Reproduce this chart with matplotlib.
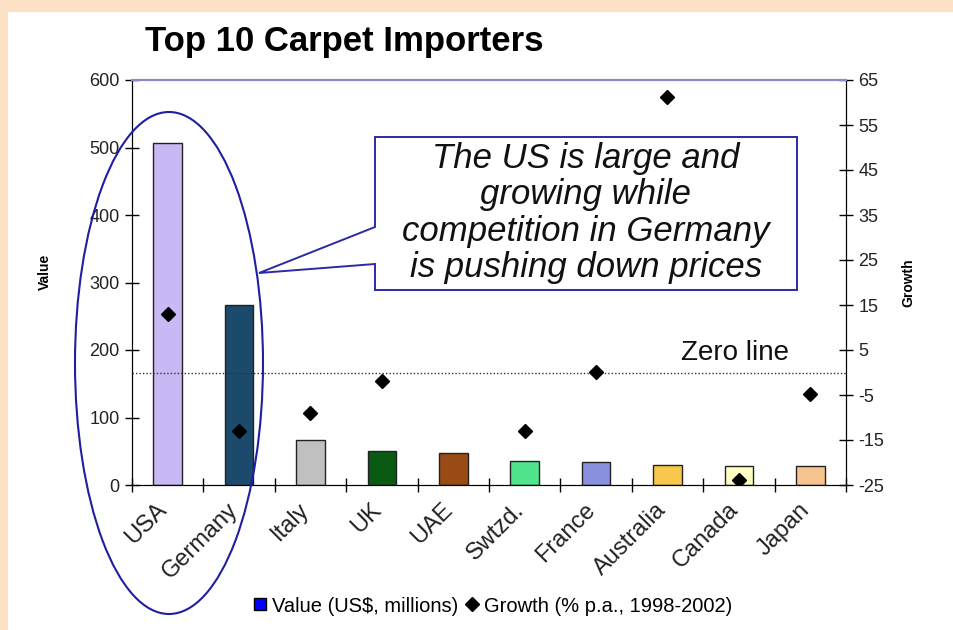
import matplotlib
matplotlib.use('Agg')
import matplotlib.pyplot as plt
from matplotlib.patches import Rectangle, Ellipse, Polygon
from matplotlib.lines import Line2D
from matplotlib.transforms import ScaledTranslation
import numpy as np

plt.rcParams['font.family'] = ['Liberation Sans', 'DejaVu Sans']
plt.rcParams['axes.unicode_minus'] = False

# ---------------- data ----------------
countries = ["USA", "Germany", "Italy", "UK", "UAE", "Swtzd.", "France",
             "Australia", "Canada", "Japan"]
values = [506, 266, 67, 51, 47, 36, 34, 30, 28, 28]           # US$ millions
growth = [13.1, -12.9, -8.9, -1.9, np.nan, -12.9, 0.2, 61.2, -23.9, -4.8]  # % p.a.
bar_colors = ["#c8b8f4", "#1b4a6c", "#c0c0c0", "#0b5a14", "#9a4a14",
              "#50e48c", "#8a92e0", "#f8c84c", "#ffffc4", "#f6c48e"]
value_ticks = [0, 100, 200, 300, 400, 500, 600]
growth_ticks = [-25, -15, -5, 5, 15, 25, 35, 45, 55, 65]
zero_level = 0

title = "Top 10 Carpet Importers"
callout = "The US is large and\ngrowing while\ncompetition in Germany\nis pushing down prices"
legend_labels = [r"Value (US\$, millions)", "Growth (% p.a., 1998-2002)"]

# ---------------- layout helpers ----------------
W, H = 954, 630
fig = plt.figure(figsize=(W / 100, H / 100), dpi=100)
fig.patch.set_facecolor("#fde1c4")


def fx(px):
    return px / W


def fy(py):
    return 1 - py / H


fig.add_artist(Rectangle((fx(8), 0), fx(954) - fx(8), fy(12),
                         transform=fig.transFigure, facecolor="white",
                         edgecolor="none", zorder=-5))

ax = fig.add_axes([fx(132), fy(485), fx(846) - fx(132), fy(80) - fy(485)])
ax.patch.set_alpha(0)
x = np.arange(len(countries))
ax.bar(x, values, width=0.4, color=bar_colors, edgecolor="#222222",
       linewidth=1.0, zorder=2)
ax.set_xlim(-0.5, len(countries) - 0.5)
ax.set_ylim(value_ticks[0], value_ticks[-1])
ax.set_yticks(value_ticks)
ax.tick_params(axis="y", direction="inout", length=10, width=1,
               labelsize=13, labelcolor="#222222", pad=4)

ax.set_xticks(np.arange(-0.5, len(countries), 1))
ax.set_xticklabels([])
ax.set_xticks(x, minor=True)
ax.set_xticklabels(countries, minor=True, rotation=45, ha="right", va="top",
                   rotation_mode="anchor", fontsize=17, color="#222222")
ax.tick_params(axis="x", which="major", direction="inout", length=10, width=1)
ax.tick_params(axis="x", which="minor", length=0, pad=10)
shift = ScaledTranslation(-0.12, 0, fig.dpi_scale_trans)
for lab in ax.get_xticklabels(minor=True):
    lab.set_transform(lab.get_transform() + shift)

ax2 = ax.twinx()
ax2.set_ylim(growth_ticks[0], growth_ticks[-1])
ax2.set_yticks(growth_ticks)
ax2.tick_params(axis="y", direction="inout", length=10, width=1,
                labelsize=13, labelcolor="#222222", pad=4)
ax2.plot(x, growth, linestyle="none", marker="D", color="black",
         markersize=7.5, zorder=4)
ax2.axhline(zero_level, color="#333333", linewidth=1.0,
            linestyle=(0, (1, 1.5)), zorder=3)

for a in (ax, ax2):
    a.spines["top"].set_color("#8a8ac8")
    a.spines["top"].set_linewidth(1.5)
    a.spines["left"].set_color("black")
    a.spines["right"].set_color("black")
    a.spines["bottom"].set_color("black")

fig.text(fx(681), fy(353), "Zero line", fontsize=20, va="center", ha="left",
         color="#111111")

fig.text(fx(45), fy(272), "Value", rotation=90, ha="center", va="center",
         fontsize=10, fontweight="bold")
fig.text(fx(908), fy(283), "Growth", rotation=90, ha="center", va="center",
         fontsize=10, fontweight="bold")

fig.text(fx(145), fy(42), title, fontsize=25, fontweight="bold",
         ha="left", va="center")

# callout box
pts = [(375, 137), (797, 137), (797, 290), (375, 290), (375, 264),
       (259, 273), (375, 227)]
poly = Polygon([(fx(a), fy(b)) for a, b in pts], closed=True,
               transform=fig.transFigure, facecolor="white",
               edgecolor="#2a2aa8", linewidth=1.4, zorder=10)
fig.add_artist(poly)
fig.text(fx(586), fy(213), callout, fontsize=25, style="italic",
         ha="center", va="center", multialignment="center",
         linespacing=1.12, zorder=11, color="#111111")

# ellipse
ell = Ellipse((fx(169), fy(363)), 188 / W, 502 / H,
              transform=fig.transFigure, fill=False,
              edgecolor="#1f1f9f", linewidth=1.5, zorder=12)
fig.add_artist(ell)

# legend
handles = [Line2D([], [], linestyle="none", marker="s", color="#0000ff",
                  markeredgecolor="black", markersize=9),
           Line2D([], [], linestyle="none", marker="D", color="black",
                  markersize=7)]
fig.legend(handles, legend_labels, loc="center",
           bbox_to_anchor=(fx(492), fy(606)), ncol=2, frameon=False,
           fontsize=14.5, handlelength=0.8, handletextpad=0.2,
           columnspacing=0.3)

fig.savefig("out.png", dpi=100, facecolor=fig.get_facecolor())
